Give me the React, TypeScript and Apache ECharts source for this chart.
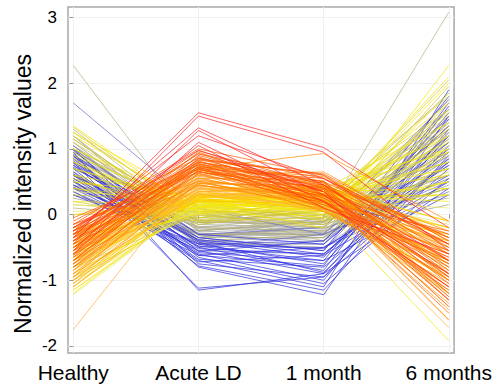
import React, { useEffect, useRef } from "react";
import * as echarts from "echarts";

const categories = ["Healthy", "Acute LD", "1 month", "6 months"];
const yTicks = [-2, -1, 0, 1, 2, 3];

// Each profile: [Healthy, Acute LD, 1 month, 6 months]
const grayProfiles = [
  [1.2, -0.4, -0.35, 1.2], [1.0, -0.25, -0.1, 0.6], [0.85, -0.45, -0.45, 1.5], [0.7, -0.15, -0.2, 0.3],
  [0.55, -0.35, -0.05, 0.95], [0.4, -0.3, -0.4, 1.35], [0.95, -0.2, -0.25, 0.15], [0.65, -0.42, -0.5, 0.8],
  [0.25, -0.12, -0.15, 1.1], [1.1, -0.32, -0.3, 0.45], [0.5, -0.38, -0.12, 1.6], [0.8, -0.28, -0.35, 0.75],
  [0.75, -0.22, -0.28, 1.0], [0.45, -0.18, -0.22, 0.55], [1.05, -0.35, -0.18, 1.3], [0.3, -0.25, -0.32, 0.85],
  [0.9, -0.1, -0.1, 0.4], [0.6, -0.3, -0.28, 1.15],
];
const oliveProfiles = [
  [2.27, -0.25, -0.1, 0.9], [0.1, -0.05, -0.05, 3.08], [1.3, -0.2, -0.25, 1.2], [1.15, -0.1, 0.05, 0.6],
  [1.0, -0.3, -0.3, 1.75], [0.85, 0.0, -0.15, 0.4], [0.7, -0.15, 0.08, 1.45], [0.55, -0.35, -0.35, 0.85],
  [0.4, -0.08, -0.2, 1.1], [1.2, -0.25, -0.05, 0.25], [0.95, 0.05, -0.4, 1.6], [0.6, -0.2, 0.0, 0.7],
  [0.3, -0.3, -0.25, 1.3], [1.05, -0.12, -0.12, 1.0], [0.8, -0.4, -0.3, 0.55], [0.45, 0.02, 0.1, 1.85],
];
const blueGrayProfiles = [
  [1.7, 0.1, -0.3, 1.4], [1.05, -0.45, -0.4, 0.9], [0.9, -0.35, -0.55, 1.5], [0.75, -0.5, -0.3, 0.5],
  [0.6, -0.4, -0.45, 1.2], [0.45, -0.55, -0.6, 0.8], [1.0, -0.3, -0.2, 1.75], [0.35, -0.48, -0.5, 0.35],
];
const blueProfiles = [
  [0.95, -1.15, -0.9, 1.2], [0.8, -1.12, -0.95, 0.7], [0.9, -0.8, -1.22, 1.5], [0.7, -0.78, -1.15, 0.9],
  [0.6, -0.7, -1.1, 1.9], [0.85, -0.65, -1.05, 0.55], [0.5, -0.6, -1.0, 1.3], [1.0, -0.75, -0.95, 1.05],
  [0.4, -0.55, -0.9, 0.4], [0.75, -0.5, -0.85, 1.65], [0.65, -0.68, -0.8, 0.8], [0.3, -0.45, -0.75, 1.25],
  [0.55, -0.58, -0.7, 0.3], [0.92, -0.4, -0.65, 1.45], [0.45, -0.52, -0.6, 0.95], [0.72, -0.35, -0.55, 1.8],
  [0.35, -0.62, -0.5, 0.6], [0.88, -0.3, -0.45, 1.1], [0.62, -0.48, -0.7, 1.55], [0.52, -0.72, -0.62, 0.5],
  [0.78, -0.42, -0.88, 0.85], [0.98, -0.56, -0.4, 1.35], [0.6, -0.38, -0.6, 1.0], [0.82, -0.62, -0.78, 1.7],
  [0.42, -0.44, -0.52, 0.75],
];
const yellowOliveProfiles = [
  [-1.0, 0.1, 0.2, 0.8], [-0.8, 0.0, 0.1, 1.2], [-0.6, 0.15, -0.05, 0.5], [-0.3, -0.05, 0.25, 1.6],
  [0.0, 0.05, 0.05, 0.9], [0.2, -0.1, 0.15, 1.4], [0.4, 0.2, -0.1, 0.4], [0.55, -0.02, 0.22, 1.8],
  [0.7, 0.12, 0.0, 1.05], [0.85, -0.12, 0.08, 0.7], [1.0, 0.08, -0.15, 1.95], [1.1, -0.05, 0.18, 1.25],
  [1.25, 0.02, -0.02, 0.6], [1.33, -0.08, 0.12, 1.5], [0.3, 0.18, 0.28, 0.3], [0.95, 0.0, -0.2, 1.7],
  [0.6, -0.15, 0.05, 2.05], [-0.45, 0.22, 0.15, 1.0], [0.15, 0.05, 0.0, 1.15], [0.8, -0.05, 0.1, 1.6],
  [-0.2, 0.1, -0.08, 0.65], [1.15, -0.1, -0.05, 0.95], [0.5, 0.15, 0.12, 1.35],
];
const paleYellowProfiles = [
  [-1.22, 0.2, 0.15, 0.3], [-1.05, 0.1, 0.25, -0.2], [-0.85, 0.25, 0.05, 0.9], [-0.65, 0.05, 0.3, -0.6],
  [-0.45, 0.18, 0.12, 1.4], [-0.25, 0.28, 0.22, 0.1], [0.05, 0.08, 0.35, 0.7], [0.35, 0.22, 0.02, 1.2],
  [-1.15, 0.15, 0.32, -0.4], [-0.75, 0.3, 0.18, 0.5], [0.15, 0.0, 0.1, 1.0], [-0.55, 0.12, 0.28, -0.15],
];
const yellowProfiles = [
  [-1.2, 0.25, 0.1, -1.92], [-1.15, 0.2, 0.3, 0.6], [-1.0, 0.3, 0.25, -0.2], [-0.9, 0.15, 0.35, 0.4],
  [-0.8, 0.28, 0.2, -0.55], [-0.7, 0.1, 0.4, 1.0], [-0.6, 0.22, 0.15, -1.0], [-0.5, 0.32, 0.3, 0.2],
  [-0.4, 0.18, 0.05, -0.4], [-0.3, 0.26, 0.38, 1.4], [-0.2, 0.12, 0.22, -0.75], [0.0, 0.2, 0.28, 0.8],
  [0.2, 0.15, -0.2, 2.27], [0.4, 0.08, 0.18, 1.7], [0.6, 0.25, 0.1, 0.5], [0.8, 0.05, 0.32, 1.2],
  [1.0, 0.18, -0.05, 1.85], [1.2, 0.1, 0.25, 0.3], [1.35, 0.02, 0.12, 1.55], [1.25, 0.22, 0.0, 2.0],
  [0.9, 0.12, 0.35, 0.95], [0.5, 0.28, 0.2, 1.1], [-1.1, 0.35, 0.42, -0.1], [-0.95, 0.05, 0.15, 1.3],
  [0.7, 0.2, 0.05, 2.1], [-0.5, 0.02, 0.28, 0.7],
];
const yellowOrangeProfiles = [
  [-0.45, 0.42, 0.4, -0.5], [-0.85, 0.4, 0.2, -0.9], [-0.6, 0.38, 0.3, -1.3], [-1.05, 0.36, 0.1, -0.3],
  [-0.3, 0.35, 0.42, -0.75], [-0.75, 0.33, 0.25, -1.1], [-0.95, 0.31, 0.05, -0.6], [-0.5, 0.3, 0.35, -0.2],
  [-0.7, 0.28, 0.15, -1.0], [-1.1, 0.26, 0.28, -0.45], [-0.4, 0.25, 0.45, -0.85], [-0.65, 0.23, 0.08, -1.2],
  [-0.9, 0.22, 0.32, -0.35], [-0.55, 0.2, 0.18, -0.7], [-0.8, 0.35, 0.38, -0.1], [-0.35, 0.3, 0.22, -1.0],
];
const lightOrangeProfiles = [
  [-1.75, 0.65, 0.4, -0.8], [-0.6, 0.45, 0.2, -1.72], [-0.8, 0.4, 0.3, -1.61], [-0.4, 0.52, 0.35, -0.6],
  [-1.05, 0.5, 0.15, -1.0], [-0.3, 0.48, 0.42, -1.25], [-0.7, 0.44, 0.25, -0.45], [-0.9, 0.42, 0.05, -0.85],
  [-0.5, 0.38, 0.32, -1.4], [-1.1, 0.36, 0.2, -0.7], [-0.35, 0.34, 0.45, -0.3], [-0.75, 0.32, 0.1, -1.1],
  [-0.95, 0.3, 0.28, -0.55], [-0.55, 0.4, 0.38, -0.95], [-0.25, 0.46, 0.12, -0.4], [-0.85, 0.55, 0.22, -1.2],
];
const orangeProfiles = [
  [-0.3, 0.7, 0.93, -0.1], [-0.45, 0.8, 0.5, -1.0], [-0.7, 0.78, 0.3, -0.6], [-0.2, 0.76, 0.45, -1.3],
  [-0.85, 0.74, 0.2, -0.9], [-0.55, 0.72, 0.58, -0.45], [-0.35, 0.7, 0.12, -1.15], [-0.95, 0.68, 0.35, -0.7],
  [-0.6, 0.66, 0.25, -1.45], [-0.25, 0.64, 0.48, -0.55], [-0.75, 0.62, 0.05, -0.95], [-0.4, 0.6, 0.32, -1.6],
  [-0.9, 0.58, 0.42, -0.35], [-0.5, 0.56, 0.18, -0.8], [-0.3, 0.55, 0.52, -1.2], [-0.8, 0.53, 0.28, -0.5],
  [-0.65, 0.51, 0.08, -1.05], [-0.15, 0.5, 0.38, -0.75], [-1.0, 0.48, 0.22, -1.35], [-0.45, 0.47, 0.45, -0.25],
  [-0.7, 0.45, 0.15, -0.65], [-0.35, 0.44, 0.3, -0.9], [-0.55, 0.6, 0.65, -0.4],
];
const darkOrangeProfiles = [
  [-0.15, 1.0, 0.6, -0.5], [-0.3, 0.97, 0.45, -0.8], [-0.5, 0.95, 0.3, -1.0], [-0.25, 0.92, 0.55, -0.35],
  [-0.65, 0.9, 0.4, -1.2], [-0.4, 0.88, 0.25, -0.65], [-0.1, 0.86, 0.5, -0.9], [-0.55, 0.85, 0.35, -1.4],
  [-0.35, 0.83, 0.62, -0.4], [-0.75, 0.82, 0.2, -0.75], [-0.2, 0.8, 0.42, -1.05], [-0.45, 0.78, 0.15, -0.55],
  [-0.6, 0.77, 0.48, -0.95], [-0.05, 0.75, 0.3, -0.3], [-0.7, 0.74, 0.38, -1.25], [-0.3, 0.72, 0.1, -0.7],
  [-0.5, 0.7, 0.55, -0.6], [-0.25, 0.69, 0.28, -1.5], [-0.8, 0.68, 0.45, -0.85], [-0.4, 0.66, 0.22, -1.1],
  [-0.15, 0.65, 0.4, -0.45], [-0.62, 0.63, 0.18, -0.25], [-0.35, 0.93, 0.35, -0.95], [-0.5, 0.8, 0.5, -0.35],
  [-0.2, 0.72, 0.2, -1.15], [-0.7, 0.85, 0.6, -0.7],
];
const redProfiles = [
  [-0.35, 1.55, 1.02, -0.2], [-0.45, 1.5, 0.95, -0.55], [-0.3, 1.32, 0.45, -0.7], [-0.55, 1.28, 0.3, -0.9],
  [-0.25, 1.2, 0.55, -0.45], [-0.6, 1.1, 0.2, -1.1], [-0.4, 1.05, 0.1, -0.6], [-0.2, 0.98, 0.35, -1.3],
];

// drawing order, bottom to top, with colour of each group
const groups: [number[][], string][] = [
  [grayProfiles, "#9a9a9a"],
  [oliveProfiles, "#b3b07c"],
  [blueGrayProfiles, "#6c6cc8"],
  [blueProfiles, "#2f2fe0"],
  [yellowOliveProfiles, "#d2c830"],
  [paleYellowProfiles, "#ece66a"],
  [yellowProfiles, "#f5e600"],
  [yellowOrangeProfiles, "#ffc400"],
  [lightOrangeProfiles, "#ffae40"],
  [orangeProfiles, "#ff8c00"],
  [darkOrangeProfiles, "#ff5a00"],
  [redProfiles, "#ff2828"],
];

const FONT = "'Liberation Sans', Arial, sans-serif";

export default function App() {
  const ref = useRef<HTMLDivElement>(null);
  useEffect(() => {
    if (!ref.current) return;
    const chart = echarts.init(ref.current, undefined, { renderer: "svg" });
    const series: any[] = [];
    groups.forEach(([profiles, color]) => {
      profiles.forEach((p) => {
        series.push({
          type: "line",
          data: p.map((v, i) => [i, v]),
          symbol: "none",
          silent: true,
          clip: false,
          lineStyle: { color, width: 1, opacity: 0.72 },
          itemStyle: { color },
        });
      });
    });
    chart.setOption({
      animation: false,
      backgroundColor: "#ffffff",
      grid: {
        left: 68,
        right: 35,
        top: 7,
        bottom: 32,
        show: true,
        borderColor: "#a8a8a8",
        borderWidth: 1.5,
        backgroundColor: "transparent",
      },
      xAxis: {
        type: "value",
        min: -0.042,
        max: 3.042,
        axisLine: { show: false },
        axisTick: {
          show: true,
          customValues: [0, 1, 2, 3],
          length: 4,
          lineStyle: { color: "#999999" },
        },
        axisLabel: {
          customValues: [0, 1, 2, 3],
          formatter: (v: number) => categories[Math.round(v)] ?? "",
          fontSize: 21,
          color: "#000000",
          fontFamily: FONT,
          margin: 9,
        },
        splitLine: { show: true, lineStyle: { color: "#f0f0f0", width: 1 } },
      },
      yAxis: {
        type: "value",
        min: -2.107,
        max: 3.16,
        axisLine: { show: false },
        axisTick: {
          show: true,
          customValues: yTicks,
          length: 4,
          lineStyle: { color: "#999999" },
        },
        axisLabel: {
          customValues: yTicks,
          fontSize: 17,
          color: "#000000",
          fontFamily: FONT,
          margin: 11,
        },
        splitLine: { show: true, lineStyle: { color: "#f0f0f0", width: 1 } },
      },
      graphic: [
        {
          type: "text",
          x: 23,
          y: 194,
          rotation: Math.PI / 2,
          style: {
            text: "Normalized intensity values",
            fontSize: 23,
            fontFamily: FONT,
            fill: "#000000",
            align: "center",
            verticalAlign: "middle",
          },
        },
      ],
      series,
    });
    return () => chart.dispose();
  }, []);
  return <div ref={ref} style={{ width: 495, height: 385, position: "absolute", left: 0, top: 0 }} />;
}
